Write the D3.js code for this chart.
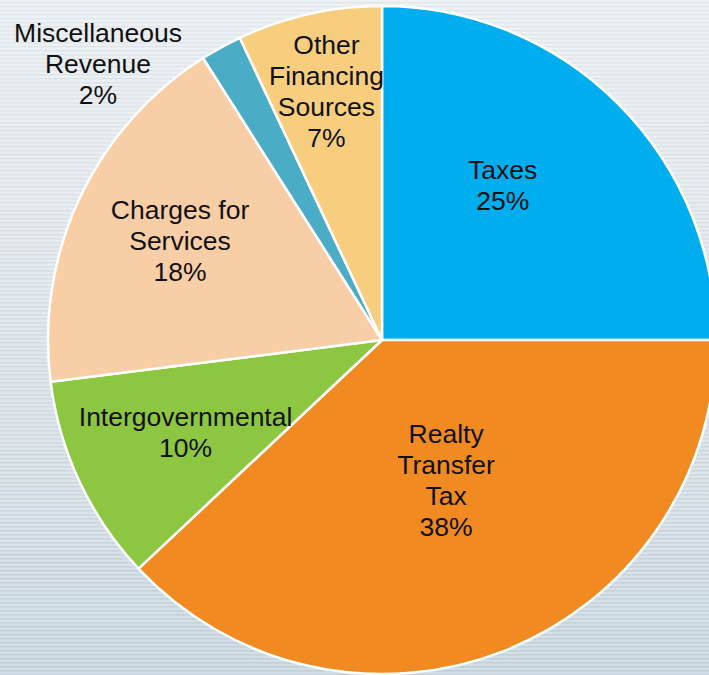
<!DOCTYPE html>
<html>
<head>
<meta charset="utf-8">
<script src="https://cdn.jsdelivr.net/npm/d3@7"></script>
<style>
  html, body { margin: 0; padding: 0; overflow: hidden; }
  svg { display: block; }
</style>
</head>
<body>
<svg id="chart" width="709" height="675"></svg>
<script>
// Revenue sources, share of total (%)
const categories = ["Taxes", "Realty Transfer Tax", "Intergovernmental", "Charges for Services", "Miscellaneous Revenue", "Other Financing Sources"];
const values = [25, 38, 10, 18, 2, 7];
const labelLines = [
  ["Taxes"],
  ["Realty", "Transfer", "Tax"],
  ["Intergovernmental"],
  ["Charges for", "Services"],
  ["Miscellaneous", "Revenue"],
  ["Other", "Financing", "Sources"]
];
const colors = ["#00aeef", "#f08a21", "#8dc641", "#f8cea6", "#4bacc6", "#f7ce7d"];
// label placement: angular shift from slice middle (deg) and distance as a fraction of radius
const labelShift = [-7, -3, 0, 1, -17, 0];
const labelRadius = [0.587, 0.461, 0.65, 0.674, 1.186, 0.763];

const W = 709, H = 675;
const cx = 382, cy = 340, R = 334;
const svg = d3.select("#chart");

// background: soft vertical gradient with fine horizontal striping
const defs = svg.append("defs");
const grad = defs.append("linearGradient").attr("id", "bg").attr("x1", 0).attr("y1", 0).attr("x2", 0).attr("y2", 1);
grad.append("stop").attr("offset", "0%").attr("stop-color", "#eaeef1");
grad.append("stop").attr("offset", "45%").attr("stop-color", "#dde4e9");
grad.append("stop").attr("offset", "100%").attr("stop-color", "#c7d5de");
const pat = defs.append("pattern").attr("id", "stripes").attr("patternUnits", "userSpaceOnUse")
  .attr("width", 8).attr("height", 4);
pat.append("rect").attr("x", 0).attr("y", 0).attr("width", 8).attr("height", 2).attr("fill", "#ffffff").attr("opacity", 0.22);
pat.append("rect").attr("x", 0).attr("y", 2).attr("width", 8).attr("height", 1).attr("fill", "#8fa3b3").attr("opacity", 0.10);

svg.append("rect").attr("width", W).attr("height", H).attr("fill", "url(#bg)");
svg.append("rect").attr("width", W).attr("height", H).attr("fill", "url(#stripes)");

const data = categories.map((c, i) => ({ name: c, value: values[i], i }));
const pie = d3.pie().value(d => d.value).sort(null);
const arcs = pie(data);
const arc = d3.arc().innerRadius(0).outerRadius(R);

const g = svg.append("g").attr("transform", `translate(${cx},${cy})`);

g.selectAll("path.slice")
  .data(arcs)
  .join("path")
  .attr("class", "slice")
  .attr("d", arc)
  .attr("fill", d => colors[d.data.i])
  .attr("stroke", "#ffffff")
  .attr("stroke-width", 2.5)
  .attr("stroke-linejoin", "round");

const lineH = 31;
g.selectAll("text.lbl")
  .data(arcs)
  .join("text")
  .attr("class", "lbl")
  .attr("font-family", "'Liberation Sans', Arial, sans-serif")
  .attr("font-size", 26.5)
  .attr("fill", "#111111")
  .attr("text-anchor", "middle")
  .each(function (d) {
    const i = d.data.i;
    const mid = (d.startAngle + d.endAngle) / 2 + labelShift[i] * Math.PI / 180;
    const r = labelRadius[i] * R;
    const x = Math.sin(mid) * r;
    const y = -Math.cos(mid) * r;
    const lines = labelLines[i].concat([d3.format(".0f")(d.data.value) + "%"]);
    const top = y - (lines.length - 1) * lineH / 2;
    const t = d3.select(this);
    lines.forEach((ln, k) => {
      t.append("tspan")
        .attr("x", x)
        .attr("y", top + k * lineH)
        .attr("dy", "0.35em")
        .text(ln);
    });
  });
</script>
</body>
</html>
